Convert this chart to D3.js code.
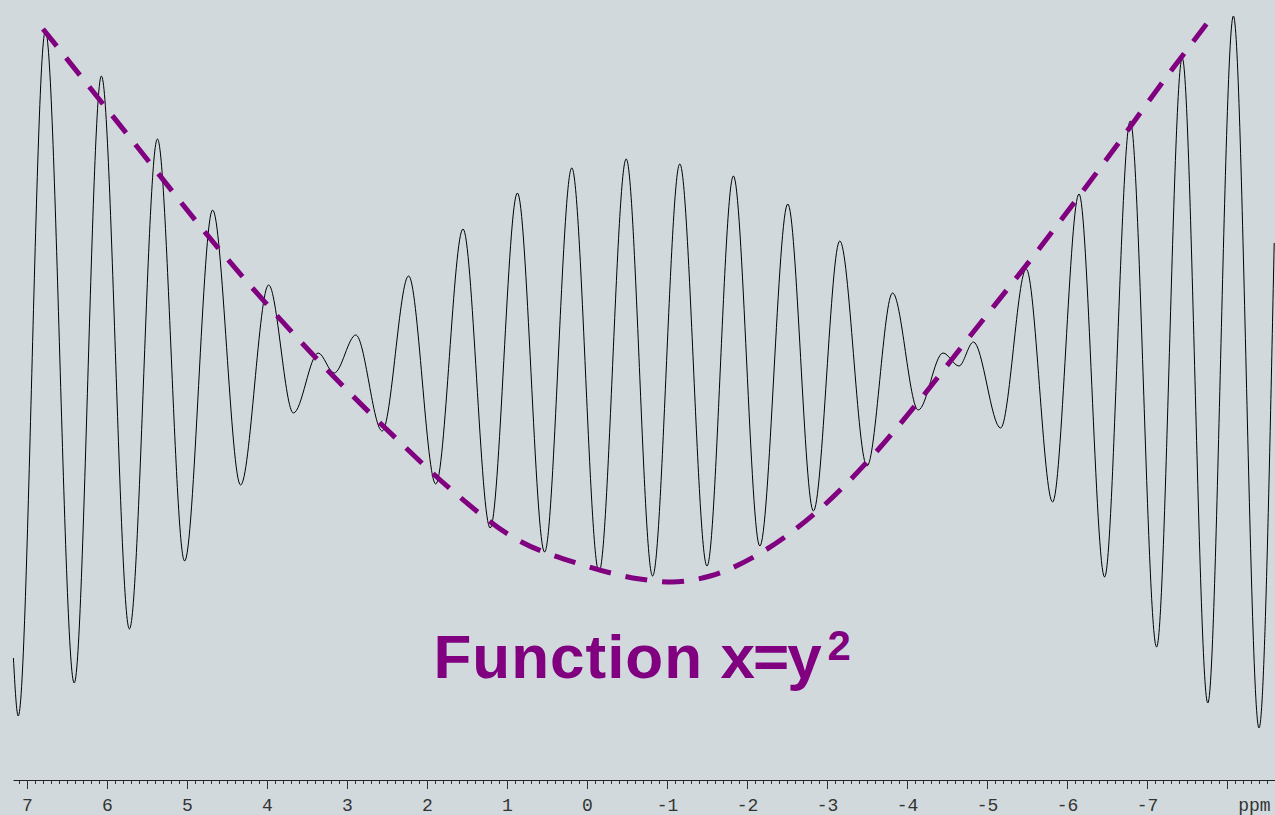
<!DOCTYPE html>
<html>
<head>
<meta charset="utf-8">
<script src="https://cdn.jsdelivr.net/npm/d3@7"></script>
<style>
  html, body { margin: 0; padding: 0; background: #d2d9dd; overflow: hidden; }
  svg { display: block; }
</style>
</head>
<body>
<div id="chart"></div>
<script>
// ---- data ----
// spectrum extrema: chemical shift (ppm) and intensity (a.u.)
const specPpm = [7.17, 7.11, 6.77, 6.41, 6.07, 5.72, 5.37, 5.03, 4.68, 4.33,
                 3.98, 3.67, 3.36, 3.16, 2.89, 2.56, 2.23, 1.89, 1.55, 1.21,
                 0.87, 0.53, 0.19, -0.15, -0.49, -0.82, -1.16, -1.50, -1.83, -2.16,
                 -2.51, -2.83, -3.16, -3.50, -3.82, -4.14, -4.45, -4.65, -4.83, -5.17,
                 -5.49, -5.82, -6.15, -6.47, -6.79, -7.12, -7.44, -7.76, -8.08, -8.40, -8.59];
const specInt = [-288, -346, 339, -313, 294, -259, 231, -191, 160, -115,
                 85, -43, 17, -3, 35, -61, 94, -114, 141, -158,
                 177, -182, 202, -202, 211, -206, 206, -196, 194, -176,
                 166, -141, 129, -96, 77, -40, 17, 4, 28, -58,
                 101, -132, 176, -207, 249, -277, 312, -333, 354, -358, 127];
// dashed envelope curve
const curvePpm = [6.80, 5.75, 4.59, 3.34, 2.34, 1.65, 0.93, 0.05, -0.66, -1.06,
                  -1.54, -2.19, -2.94, -3.58, -4.19, -4.76, -5.63, -6.46, -7.29, -7.84];
const curveInt = [341, 236, 120, 8, -72, -123, -167, -195, -209, -212,
                  -206, -182, -137, -85, -27, 31, 119, 207, 298, 356];
// axis
const majorTicks = [7, 6, 5, 4, 3, 2, 1, 0, -1, -2, -3, -4, -5, -6, -7, -8];
const tickLabels = ["7", "6", "5", "4", "3", "2", "1", "0", "-1", "-2", "-3", "-4", "-5", "-6", "-7", ""];
const unitLabel = "ppm";
const titleWord = "Function";
const titleEq = "x=y";
const titleSup = "2";

// ---- chart ----
const W = 1275, H = 815;
const svg = d3.select("#chart").append("svg").attr("width", W).attr("height", H);
svg.append("rect").attr("width", W).attr("height", H).attr("fill", "#d2d9dd");

const x = d3.scaleLinear().domain([7.175, -8.6]).range([13, 1275]);
const y = d3.scaleLinear().domain([-410, 370]).range([780, 0]);
const axisY = 780;

const spec = specPpm.map((p, i) => [p, specInt[i]]);
const env = curvePpm.map((p, i) => [p, curveInt[i]]);

const line = d3.line().x(d => x(d[0])).y(d => y(d[1])).curve(d3.curveMonotoneX);

svg.append("path").datum(spec)
  .attr("d", line)
  .attr("fill", "none")
  .attr("stroke", "#000")
  .attr("stroke-width", 1);

svg.append("path").datum(env)
  .attr("d", line)
  .attr("fill", "none")
  .attr("stroke", "#800080")
  .attr("stroke-width", 5)
  .attr("stroke-dasharray", "22,15");

// minor ticks
const minor = d3.range(-86, 72).map(d => d / 10);
svg.append("g").attr("transform", `translate(0,${axisY})`)
  .call(d3.axisBottom(x).tickValues(minor).tickSize(4).tickSizeOuter(0).tickFormat(""))
  .call(g => g.select(".domain").remove())
  .call(g => g.selectAll("line").attr("stroke", "#333"));

// major ticks + labels
const ax = svg.append("g").attr("transform", `translate(0,${axisY})`)
  .call(d3.axisBottom(x).tickValues(majorTicks).tickSize(9).tickSizeOuter(0)
        .tickFormat((d, i) => tickLabels[i]));
ax.select(".domain").attr("stroke", "#222").attr("stroke-width", 1);
ax.selectAll("line").attr("stroke", "#333");
ax.selectAll("text")
  .attr("dy", null).attr("y", 31)
  .attr("fill", "#333")
  .style("font-family", "'Liberation Mono', 'Courier New', monospace")
  .style("font-size", "18px");

svg.append("text")
  .attr("x", x(-8.14)).attr("y", axisY + 31)
  .attr("fill", "#333")
  .style("font-family", "'Liberation Mono', 'Courier New', monospace")
  .style("font-size", "18px")
  .text(unitLabel);

// title annotation
const t = svg.append("text")
  .attr("y", y(-308))
  .attr("fill", "#800080")
  .style("font-family", "'Liberation Sans', Arial, sans-serif")
  .style("font-weight", "bold")
  .style("font-size", "62px");
t.append("tspan").attr("x", x(1.92)).style("letter-spacing", "1px").text(titleWord);
t.append("tspan").attr("x", x(-1.67)).style("letter-spacing", "-2px").text(titleEq);
t.append("tspan").attr("x", x(-3.006)).attr("y", y(-290))
  .style("font-size", "42px").text(titleSup);
</script>
</body>
</html>
